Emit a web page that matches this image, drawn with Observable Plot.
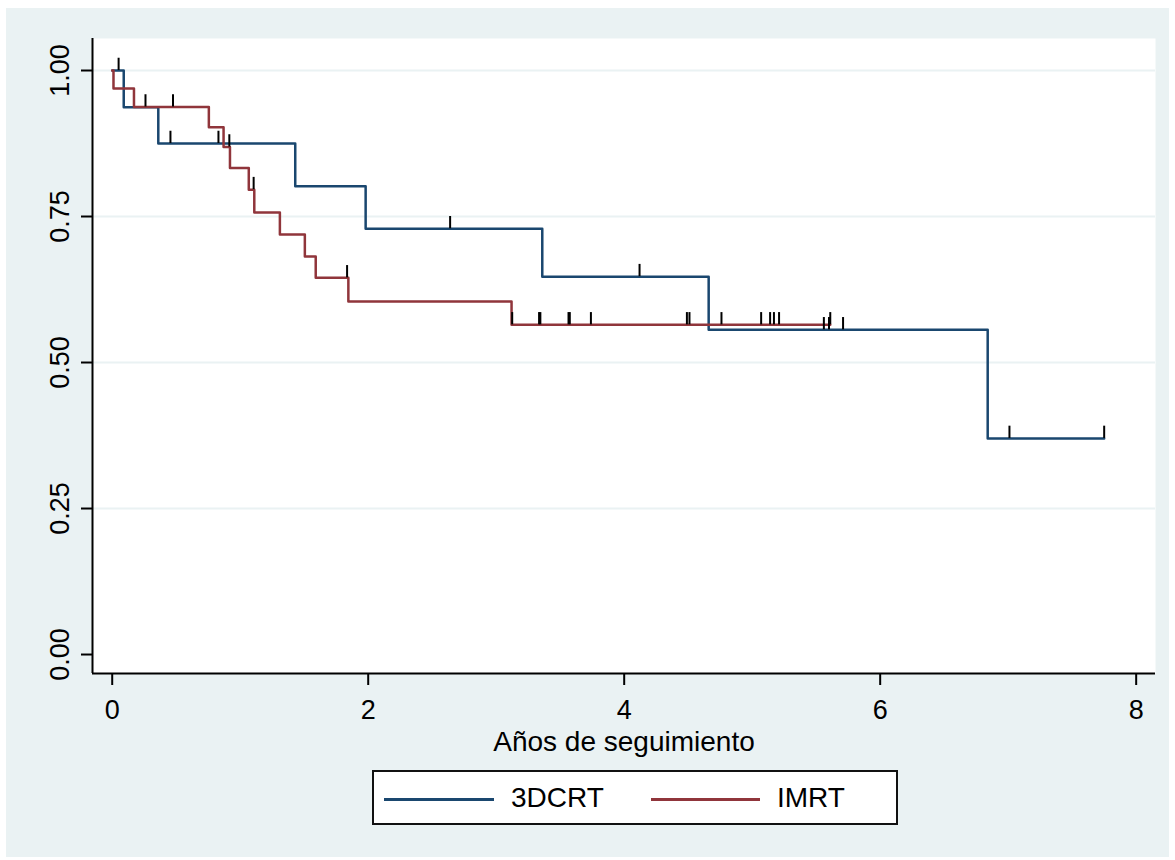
<!DOCTYPE html>
<html>
<head>
<meta charset="utf-8">
<script src="https://cdn.jsdelivr.net/npm/d3@7"></script>
<script src="https://cdn.jsdelivr.net/npm/@observablehq/plot@0.6"></script>
<style>
  html, body { margin: 0; padding: 0; background: #ffffff; }
  body { width: 1175px; height: 860px; position: relative; overflow: hidden;
         font-family: "Liberation Sans", Arial, sans-serif; }
  #bg { position: absolute; left: 6px; top: 8px; width: 1163px; height: 849px; background: #EAF2F3; }
  #chart { position: absolute; left: 0; top: 0; }
  #chart svg [aria-label$="axis tick"] { stroke-width: 2px; }
  #legend { position: absolute; left: 372px; top: 770px; width: 526px; height: 55px;
            box-sizing: border-box; border: 2px solid #111; background: #fff; }
  .lg-line { position: absolute; height: 3px; top: 26px; }
  .lg-text { position: absolute; top: 12px; font-size: 28px; line-height: 28px; color: #000; white-space: nowrap; }
</style>
</head>
<body>
<div id="bg"></div>
<div id="chart"></div>
<div id="legend">
  <div class="lg-line" id="lgBlue" style="left:10px;width:110px;"></div>
  <div class="lg-text" id="lgBlueText" style="left:137px;"></div>
  <div class="lg-line" id="lgRed" style="left:277px;width:109px;"></div>
  <div class="lg-text" id="lgRedText" style="left:403px;"></div>
</div>
<script>
// ---- Data (Kaplan-Meier estimates) ----
const groups = ["3DCRT", "IMRT"];

// 3DCRT step function: times (years) and survival after each step
const times3DCRT = [0, 0.09, 0.36, 1.43, 1.98, 3.36, 4.66, 6.84, 7.75];
const surv3DCRT  = [1.0, 0.937, 0.875, 0.802, 0.729, 0.647, 0.556, 0.370, 0.370];

// IMRT step function
const timesIMRT = [0, 0.01, 0.17, 0.755, 0.87, 0.92, 1.067, 1.11, 1.31, 1.505, 1.59, 1.845, 3.12, 5.61];
const survIMRT  = [1.0, 0.969, 0.9375, 0.903, 0.869, 0.833, 0.796, 0.757, 0.719, 0.6815, 0.645, 0.6045, 0.5645, 0.5645];

// Censored observations (tick marks)
const censTimes3DCRT = [0.05, 0.455, 0.83, 2.64, 4.12, 5.56, 5.60, 5.71, 7.01, 7.75];
const censSurv3DCRT  = [1.0, 0.875, 0.875, 0.729, 0.647, 0.556, 0.556, 0.556, 0.370, 0.370];

const censTimesIMRT = [0.26, 0.475, 0.915, 1.105, 1.835, 3.125, 3.335, 3.345, 3.565, 3.575, 3.74, 4.49, 4.51, 4.76, 5.07, 5.14, 5.17, 5.21, 5.61];
const censSurvIMRT  = [0.9375, 0.9375, 0.869, 0.796, 0.645, 0.5645, 0.5645, 0.5645, 0.5645, 0.5645, 0.5645, 0.5645, 0.5645, 0.5645, 0.5645, 0.5645, 0.5645, 0.5645, 0.5645];

const xTicks = [0, 2, 4, 6, 8];
const yTicks = [0, 0.25, 0.5, 0.75, 1];
const yGrid  = [0.25, 0.5, 0.75, 1];
const xLabel = "Años de seguimiento";

// ---- Styling ----
const colors = { "3DCRT": "#1A476F", "IMRT": "#90353B" };
const censorTickLen = 0.021; // in survival units (~12px)
const xDomain = [-0.154, 8.151];
const yDomain = [-0.0325, 1.0548];

const line3D = times3DCRT.map((t, i) => ({ t, s: surv3DCRT[i] }));
const lineIM = timesIMRT.map((t, i) => ({ t, s: survIMRT[i] }));
const cens3D = censTimes3DCRT.map((t, i) => ({ t, s: censSurv3DCRT[i] }));
const censIM = censTimesIMRT.map((t, i) => ({ t, s: censSurvIMRT[i] }));

const chart = Plot.plot({
  width: 1175,
  height: 760,
  marginTop: 38,
  marginBottom: 87,
  marginLeft: 92,
  marginRight: 20,
  style: { background: "transparent", fontFamily: "'Liberation Sans', Arial, sans-serif", fontSize: "27px", color: "#000", overflow: "visible" },
  x: { domain: xDomain, ticks: xTicks, tickSize: 12, tickPadding: 14, tickFormat: d3.format("d"), label: null },
  y: { domain: yDomain, ticks: yTicks, tickSize: 11, tickPadding: 13, tickFormat: d3.format(".2f"), tickRotate: -90, label: null },
  marks: [
    Plot.frame({ fill: "white", stroke: null }),
    Plot.ruleY(yGrid, { stroke: "#EAF2F3", strokeWidth: 2 }),
    Plot.ruleX([xDomain[0]], { stroke: "#000", strokeWidth: 2 }),
    Plot.ruleY([yDomain[0]], { stroke: "#000", strokeWidth: 2 }),
    Plot.line(line3D, { x: "t", y: "s", curve: "step-after", stroke: colors["3DCRT"], strokeWidth: 2.5 }),
    Plot.line(lineIM, { x: "t", y: "s", curve: "step-after", stroke: colors["IMRT"], strokeWidth: 2.5 }),
    Plot.ruleX(cens3D, { x: "t", y1: "s", y2: d => d.s + censorTickLen, stroke: "#000", strokeWidth: 2 }),
    Plot.ruleX(censIM, { x: "t", y1: "s", y2: d => d.s + censorTickLen, stroke: "#000", strokeWidth: 2 }),
    Plot.text([xLabel], { frameAnchor: "bottom", dy: 77, lineAnchor: "bottom", fontSize: 28, fill: "#000" })
  ]
});
document.getElementById("chart").appendChild(chart);

document.getElementById("lgBlue").style.background = colors["3DCRT"];
document.getElementById("lgRed").style.background = colors["IMRT"];
document.getElementById("lgBlueText").textContent = groups[0];
document.getElementById("lgRedText").textContent = groups[1];
</script>
</body>
</html>
